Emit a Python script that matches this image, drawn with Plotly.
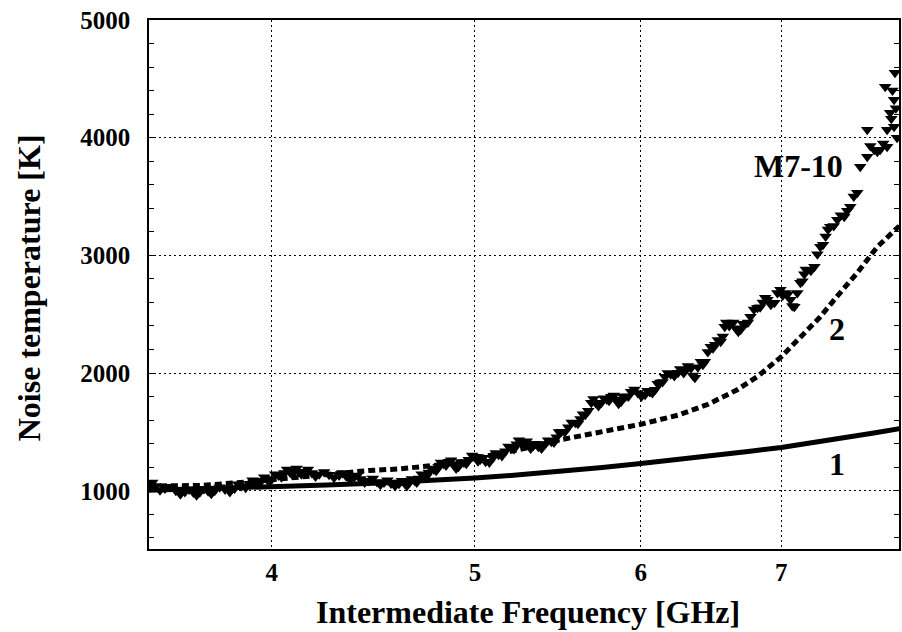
import plotly.graph_objects as go

# ---- data ----
# curve 1 (solid)
c1_freq = [3.495, 3.75, 4.0, 4.25, 4.5, 4.75, 5.0, 5.25, 5.5, 5.75, 6.0, 6.25, 6.5,
           6.75, 7.0, 7.25, 7.5, 7.75, 7.97]
c1_temp = [1005, 1018, 1032, 1048, 1065, 1085, 1108, 1135, 1165, 1198, 1232, 1265,
           1298, 1333, 1368, 1408, 1450, 1490, 1527]

# curve 2 (dashed)
c2_freq = [3.495, 3.7, 3.9, 4.1, 4.3, 4.45, 4.6, 4.75, 4.9, 5.0, 5.25, 5.5, 5.75,
           6.0, 6.25, 6.46, 6.67, 6.82, 7.0, 7.15, 7.3, 7.45, 7.61, 7.78, 7.97]
c2_temp = [1040, 1045, 1075, 1110, 1150, 1172, 1185, 1205, 1235, 1275, 1350, 1435,
           1500, 1565, 1642, 1735, 1858, 1970, 2138, 2300, 2470, 2660, 2852, 3073, 3250]

# measured M7-10 (triangles): centre of the scattered band
m_freq = [3.495, 3.52, 3.557, 3.60, 3.636, 3.67, 3.696, 3.73, 3.757, 3.80, 3.84, 3.87,
          3.904, 3.93, 3.955, 3.98, 4.00, 4.03, 4.056, 4.08, 4.10, 4.12, 4.145, 4.18,
          4.214, 4.26, 4.307, 4.34, 4.378, 4.41, 4.451, 4.49, 4.525, 4.56, 4.60, 4.63,
          4.651, 4.68, 4.702, 4.73, 4.753, 4.78, 4.805, 4.83, 4.858, 4.885, 4.911, 4.94,
          4.966, 5.004, 5.03, 5.059, 5.10, 5.132, 5.17, 5.205, 5.235, 5.262, 5.283, 5.303,
          5.33, 5.361, 5.40, 5.438, 5.47, 5.498, 5.54, 5.583, 5.615, 5.645, 5.682, 5.71,
          5.745, 5.78, 5.808, 5.84, 5.871, 5.90, 5.936, 5.98, 6.028, 6.06, 6.094, 6.13,
          6.161, 6.20, 6.25, 6.28, 6.298, 6.339, 6.367, 6.409, 6.437, 6.479, 6.51, 6.55,
          6.579, 6.601, 6.622, 6.66, 6.695, 6.73, 6.768, 6.82, 6.86, 6.895, 6.948, 6.994,
          7.03, 7.071, 7.102, 7.149, 7.18, 7.204, 7.26, 7.308, 7.35, 7.388, 7.445, 7.502,
          7.552, 7.61, 7.635, 7.694, 7.694, 7.753, 7.804, 7.847, 7.864, 7.864, 7.89,
          7.924, 7.924, 7.932]
m_temp = [1045, 1040, 1020, 1000, 990, 985, 988, 995, 1000, 1010, 1020, 1040,
          1060, 1075, 1085, 1095, 1100, 1130, 1150, 1160, 1165, 1162, 1160, 1150,
          1140, 1135, 1130, 1125, 1115, 1100, 1085, 1075, 1070, 1062, 1060, 1062,
          1068, 1085, 1105, 1130, 1155, 1180, 1204, 1230, 1246, 1225, 1204, 1240,
          1263, 1289, 1265, 1246, 1280, 1306, 1335, 1365, 1395, 1416, 1400, 1391,
          1380, 1374, 1395, 1416, 1455, 1501, 1540, 1578, 1610, 1646, 1748, 1745,
          1748, 1775, 1799, 1775, 1756, 1800, 1841, 1830, 1816, 1840, 1858, 1920,
          1969, 1990, 2003, 2020, 2028, 2040, 1960, 2096, 2096, 2223, 2240, 2266,
          2393, 2427, 2427, 2380, 2368, 2420, 2478, 2555, 2600, 2623, 2597, 2708,
          2680, 2623, 2563, 2767, 2840, 2878, 2903, 3073, 3160, 3243, 3303, 3328,
          3413, 3532, 3753, 3838, 4067, 3897, 3897, 4432, 3923, 4067, 4211,
          4322, 4093, 4551]

# measured M7-10 (triangles): upper / lower edges of the scattered band
m_freq_b = [3.508, 3.538, 3.578, 3.618, 3.653, 3.683, 3.713, 3.743, 3.778, 3.82, 3.855,
            3.887, 3.917, 3.942, 3.967, 3.99, 4.015, 4.043, 4.068, 4.09, 4.11, 4.132,
            4.162, 4.197, 4.237, 4.283, 4.323, 4.359, 4.394, 4.43, 4.47, 4.507, 4.542,
            4.58, 4.615, 4.64, 4.665, 4.691, 4.716, 4.741, 4.766, 4.792, 4.817, 4.844,
            4.871, 4.898, 4.925, 4.953, 4.985, 5.017, 5.045, 5.08, 5.116, 5.151, 5.188,
            5.22, 5.248, 5.272, 5.293, 5.316, 5.345, 5.38, 5.419, 5.454, 5.484, 5.519,
            5.561, 5.599, 5.63, 5.663, 5.696, 5.727, 5.762, 5.794, 5.824, 5.855, 5.885,
            5.918, 5.958, 6.004, 6.044, 6.077, 6.112, 6.145, 6.18, 6.225, 6.265, 6.289,
            6.318, 6.353, 6.388, 6.423, 6.458, 6.495, 6.53, 6.565, 6.59, 6.612, 6.641,
            6.678, 6.712, 6.749, 6.794, 6.84, 6.878, 6.921, 6.971, 7.012, 7.05, 7.086,
            7.125, 7.165, 7.192, 7.232, 7.284, 7.329, 7.369, 7.416, 7.474, 7.527, 7.581,
            7.72, 7.78, 7.83, 7.90, 7.91, 7.94, 7.95]
m_temp_b = [1070, 1005, 1035, 970, 1010, 962, 1015, 975, 1030, 990, 1055,
            1025, 1090, 1055, 1115, 1075, 1140, 1115, 1180, 1140, 1190, 1140,
            1180, 1120, 1160, 1110, 1150, 1095, 1130, 1070, 1105, 1050, 1090,
            1040, 1085, 1040, 1100, 1070, 1140, 1120, 1190, 1170, 1240, 1215,
            1260, 1190, 1245, 1230, 1300, 1250, 1280, 1240, 1320, 1295, 1375,
            1355, 1430, 1385, 1420, 1360, 1400, 1360, 1430, 1410, 1500, 1500,
            1580, 1570, 1650, 1680, 1780, 1720, 1785, 1765, 1810, 1740, 1800,
            1800, 1860, 1800, 1850, 1830, 1910, 1925, 2000, 1975, 2035, 2000,
            2060, 1980, 2050, 2070, 2180, 2210, 2280, 2310, 2430, 2400, 2430,
            2350, 2420, 2430, 2540, 2560, 2640, 2580, 2680, 2660, 2670, 2570,
            2680, 2780, 2880, 2870, 3010, 3090, 3220, 3250, 3340, 3380, 3500,
            3930, 3880, 3950, 4160, 4400, 4250, 4000]

x_ticks = [4, 5, 6, 7]
x_tick_text = ["4", "5", "6", "7"]
y_ticks = [1000, 2000, 3000, 4000, 5000]
y_tick_text = ["1000", "2000", "3000", "4000", "5000"]

FONT = "Liberation Serif, Times New Roman, serif"

fig = go.Figure()
fig.add_trace(go.Scatter(x=c1_freq, y=c1_temp, mode="lines",
                         line=dict(color="black", width=5), showlegend=False))
fig.add_trace(go.Scatter(x=c2_freq, y=c2_temp, mode="lines",
                         line=dict(color="black", width=5, dash="7px,4px"),
                         showlegend=False))
fig.add_trace(go.Scatter(x=m_freq + m_freq_b, y=m_temp + m_temp_b, mode="markers",
                         marker=dict(symbol="triangle-down", size=11, color="black",
                                     line=dict(width=0)),
                         showlegend=False))

fig.update_layout(
    width=902, height=632,
    margin=dict(l=149, r=1, t=20, b=83),
    plot_bgcolor="white", paper_bgcolor="white",
    font=dict(family=FONT, color="black", size=24, weight="bold"),
    xaxis=dict(type="log", range=[0.5435, 0.9013],
               tickvals=x_ticks, ticktext=x_tick_text,
               showgrid=True, gridcolor="black", gridwidth=1, griddash="2px,3px",
               showline=True, linecolor="black", linewidth=1.5, mirror=True,
               ticks="inside", ticklen=4, tickcolor="rgba(0,0,0,0)",
               ticklabelstandoff=0, zeroline=False,
               tickfont=dict(family=FONT, size=25, color="black", weight="bold")),
    yaxis=dict(range=[505, 5000],
               tickvals=y_ticks, ticktext=y_tick_text,
               showgrid=True, gridcolor="black", gridwidth=1, griddash="2px,3px",
               showline=True, linecolor="black", linewidth=1.5, mirror="ticks",
               ticks="inside", ticklen=6, tickcolor="black", tickwidth=1,
               ticklabelstandoff=12, zeroline=False,
               minor=dict(dtick=200, tick0=0, ticks="inside", ticklen=5,
                          tickcolor="black", tickwidth=1, showgrid=False),
               tickfont=dict(family=FONT, size=25, color="black", weight="bold")),
    annotations=[
        dict(text="Intermediate Frequency [GHz]", xref="paper", yref="paper",
             x=(529 - 149) / 752, y=(549 - 612) / 529, xanchor="center", yanchor="middle",
             showarrow=False, font=dict(family=FONT, size=32, color="black", weight="bold")),
        dict(text="Noise temperature [K]", xref="paper", yref="paper",
             x=(29 - 149) / 752, y=(549 - 288) / 529, xanchor="center", yanchor="middle",
             textangle=-90, showarrow=False,
             font=dict(family=FONT, size=32, color="black", weight="bold")),
        dict(text="M7-10", xref="x", yref="y", x=0.85334, y=3760,
             xanchor="center", yanchor="middle", showarrow=False,
             font=dict(family=FONT, size=32, color="black", weight="bold")),
        dict(text="2", xref="x", yref="y", x=0.87188, y=2376,
             xanchor="center", yanchor="middle", showarrow=False,
             font=dict(family=FONT, size=32, color="black", weight="bold")),
        dict(text="1", xref="x", yref="y", x=0.87188, y=1229,
             xanchor="center", yanchor="middle", showarrow=False,
             font=dict(family=FONT, size=32, color="black", weight="bold")),
    ],
)

fig.write_html("out.html")
